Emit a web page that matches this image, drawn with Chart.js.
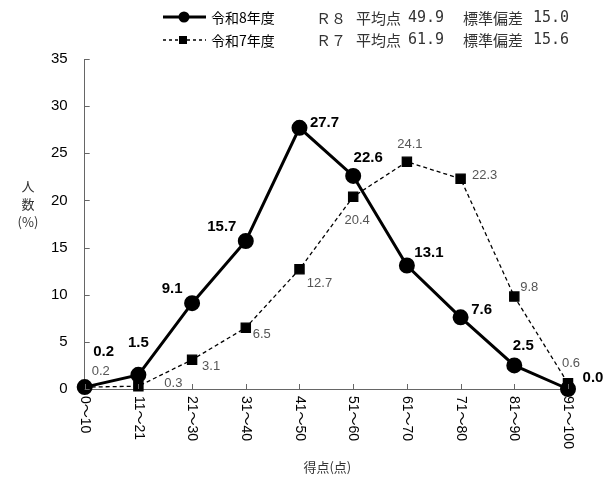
<!DOCTYPE html>
<html>
<head>
<meta charset="utf-8">
<script src="https://cdn.jsdelivr.net/npm/chart.js@4.4.1/dist/chart.umd.min.js"></script>
<style>
  html, body { margin: 0; padding: 0; background: #fff; }
  #wrap { width: 607px; height: 481px; position: relative; }
</style>
</head>
<body>
<div id="wrap"><canvas id="c" width="607" height="481"></canvas></div>
<script>
// Score bands (points)
const categories = ['0～10', '11～21', '21～30', '31～40', '41～50', '51～60', '61～70', '71～80', '81～90', '91～100'];
// Share of examinees per band (%)
const valuesR8 = [0.2, 1.5, 9.1, 15.7, 27.7, 22.6, 13.1, 7.6, 2.5, 0.0];
const valuesR7 = [0.2, 0.3, 3.1, 6.5, 12.7, 20.4, 24.1, 22.3, 9.8, 0.6];
const yTicks = [0, 5, 10, 15, 20, 25, 30, 35];
const seriesNames = ['令和8年度', '令和7年度'];
const summaryR8 = ['Ｒ８', '平均点', '49.9', '標準偏差', '15.0'];
const summaryR7 = ['Ｒ７', '平均点', '61.9', '標準偏差', '15.6'];

// Value-label placement relative to each point (dx, dy in px)
const offsetsR8 = [[19,-35],[0,-32],[-20,-14],[-24,-14],[25,-5],[15,-18],[22,-13],[21,-7],[9,-20],[25,-11]];
const offsetsR7 = [[16,-16],[35,-3],[19,7],[16,7],[20,14],[4,24],[3,-17],[24,-3],[15,-9],[3,-20]];

const NUM_FONT = '"Liberation Sans", Arial, sans-serif';
const JP_FONT = '"Noto Sans CJK JP", sans-serif';
const AXIS_COLOR = '#666';

const decor = {
  id: 'decor',
  afterDatasetsDraw(chart) {
    const ctx = chart.ctx;
    const xs = chart.scales.x, ys = chart.scales.y;
    const area = chart.chartArea;
    ctx.save();

    // inward tick marks
    ctx.strokeStyle = AXIS_COLOR;
    ctx.lineWidth = 1;
    yTicks.forEach(v => {
      const y = Math.round(ys.getPixelForValue(v)) + 0.5;
      ctx.beginPath(); ctx.moveTo(area.left, y); ctx.lineTo(area.left + 5, y); ctx.stroke();
    });
    categories.forEach((c, i) => {
      const x = Math.round(xs.getPixelForValue(i)) + 0.5;
      ctx.beginPath(); ctx.moveTo(x, area.bottom); ctx.lineTo(x, area.bottom - 5); ctx.stroke();
    });

    // category labels, rotated clockwise
    ctx.fillStyle = '#000';
    ctx.font = '14px "Liberation Sans", "Noto Sans CJK JP", sans-serif';
    ctx.textAlign = 'left';
    ctx.textBaseline = 'middle';
    categories.forEach((c, i) => {
      const x = xs.getPixelForValue(i);
      ctx.save();
      ctx.translate(x, area.bottom + 7);
      ctx.rotate(Math.PI / 2);
      ctx.fillText(c, 0, 0);
      ctx.restore();
    });

    // axis titles
    ctx.fillStyle = '#333';
    ctx.font = '13px ' + JP_FONT;
    ctx.textAlign = 'center';
    ctx.fillText('得点(点)', (area.left + area.right) / 2 + 1, 467);
    ctx.fillText('人', 28, 186);
    ctx.fillText('数', 28, 204);
    ctx.fillText('(%)', 28, 222);

    // value labels
    const drawLabels = (dsIndex, vals, offs, font, color) => {
      const meta = chart.getDatasetMeta(dsIndex);
      ctx.font = font;
      ctx.fillStyle = color;
      ctx.textAlign = 'center';
      ctx.textBaseline = 'middle';
      meta.data.forEach((pt, i) => {
        ctx.fillText(vals[i].toFixed(1), pt.x + offs[i][0], pt.y + offs[i][1]);
      });
    };
    drawLabels(1, valuesR7, offsetsR7, '13px ' + NUM_FONT, '#555');
    drawLabels(0, valuesR8, offsetsR8, 'bold 15px ' + NUM_FONT, '#000');

    // legend
    ctx.strokeStyle = '#000';
    ctx.fillStyle = '#000';
    ctx.lineWidth = 3;
    ctx.setLineDash([]);
    ctx.beginPath(); ctx.moveTo(163, 17); ctx.lineTo(206, 17); ctx.stroke();
    ctx.beginPath(); ctx.arc(184, 17, 5.5, 0, Math.PI * 2); ctx.fill();
    ctx.lineWidth = 1.5;
    ctx.setLineDash([3, 3]);
    ctx.beginPath(); ctx.moveTo(163, 40); ctx.lineTo(206, 40); ctx.stroke();
    ctx.setLineDash([]);
    ctx.fillRect(179, 36, 8, 8);

    ctx.font = '14px ' + JP_FONT;
    ctx.textAlign = 'left';
    ctx.textBaseline = 'middle';
    ctx.fillText(seriesNames[0], 211, 18);
    ctx.fillText(seriesNames[1], 211, 41);

    const cols = [316, 356, 408, 463, 533];
    [summaryR8, summaryR7].forEach((row, r) => {
      row.forEach((t, k) => {
        ctx.font = (k === 2 || k === 4 ? '15px "DejaVu Sans Mono", monospace' : '15px ' + JP_FONT);
        ctx.fillStyle = '#333';
        ctx.fillText(t, cols[k], 18 + r * 22);
      });
    });

    ctx.restore();
  }
};

new Chart(document.getElementById('c'), {
  type: 'line',
  data: {
    labels: categories,
    datasets: [
      {
        label: seriesNames[0],
        data: valuesR8,
        borderColor: '#000',
        backgroundColor: '#000',
        borderWidth: 3,
        pointStyle: 'circle',
        pointRadius: 6.5,
        pointHoverRadius: 6.5,
        tension: 0,
        order: 0
      },
      {
        label: seriesNames[1],
        data: valuesR7,
        borderColor: '#000',
        backgroundColor: '#000',
        borderWidth: 1.3,
        borderDash: [4, 3],
        pointStyle: 'rect',
        pointRadius: 6.5,
        pointHoverRadius: 6.5,
        tension: 0,
        order: 1
      }
    ]
  },
  options: {
    responsive: false,
    animation: false,
    events: [],
    clip: false,
    layout: { padding: { left: 34, right: 39, top: 59, bottom: 92 } },
    plugins: { legend: { display: false }, tooltip: { enabled: false } },
    scales: {
      x: {
        type: 'category',
        offset: false,
        grid: { display: false, drawTicks: false },
        border: { display: true, color: AXIS_COLOR, width: 1 },
        ticks: { display: false }
      },
      y: {
        min: 0,
        max: 35,
        afterBuildTicks: s => { s.ticks = yTicks.map(v => ({ value: v })); },
        grid: { display: false, drawTicks: false },
        border: { display: true, color: AXIS_COLOR, width: 1 },
        ticks: {
          padding: 17,
          color: '#000',
          font: { family: NUM_FONT, size: 15 }
        }
      }
    }
  },
  plugins: [decor]
});
</script>
</body>
</html>
